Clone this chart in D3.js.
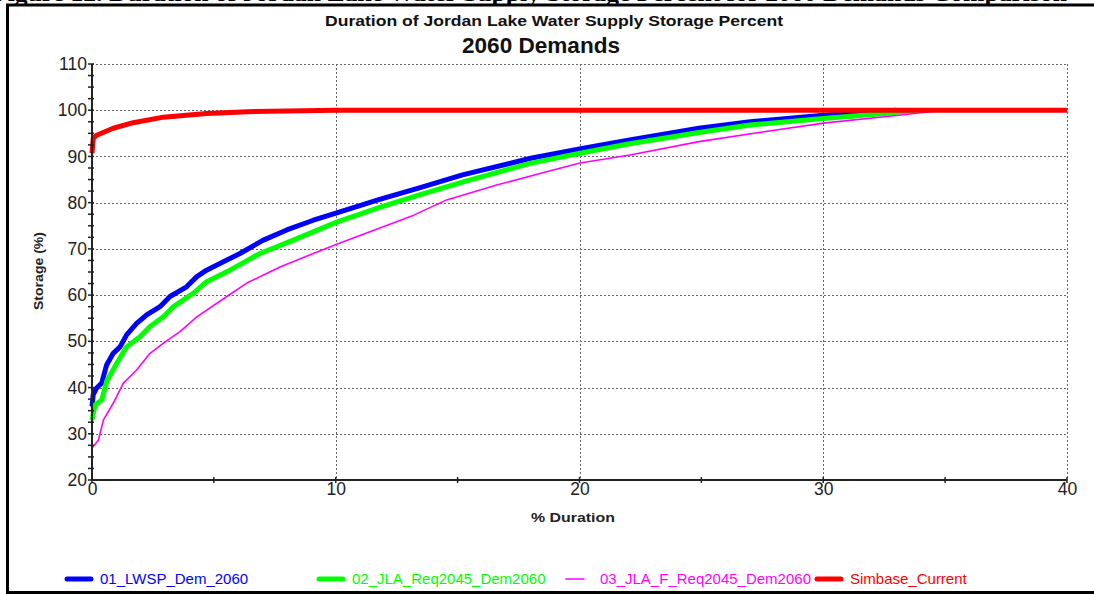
<!DOCTYPE html>
<html>
<head>
<meta charset="utf-8">
<script src="https://cdn.jsdelivr.net/npm/d3@7"></script>
<style>
  body { margin: 0; background: #fff; }
  svg { display: block; font-family: Arial, 'Liberation Sans', sans-serif; }
</style>
</head>
<body>
<svg id="chart"></svg>
<script>
// values
const durLwsp = [0, 0.05, 0.19, 0.4, 0.6, 0.87, 1.15, 1.42, 1.83, 2.24, 2.79, 3.2, 3.88, 4.3, 4.7, 5.39, 6.07, 7.03, 7.99, 9.08, 10.04, 11.8, 13.5, 15.2, 18.0, 20.0, 22.0, 24.9, 27.0, 30.0, 31.8, 33.0];
const stoLwsp = [35.9, 38.5, 39.9, 41.0, 44.9, 47.4, 48.8, 51.4, 53.9, 55.7, 57.5, 59.7, 61.8, 64.0, 65.4, 67.2, 69.0, 71.9, 74.1, 76.2, 77.8, 80.7, 83.3, 86.0, 89.6, 91.6, 93.5, 96.1, 97.5, 98.9, 99.5, 100];

const durJla = [0, 0.12, 0.4, 0.6, 1.01, 1.42, 1.97, 2.38, 2.93, 3.34, 4.16, 4.7, 5.66, 6.89, 8.26, 10.04, 11.8, 13.5, 15.23, 17.97, 20.02, 22.0, 24.9, 27.0, 30.0, 32.5, 33.8];
const stoJla = [33.0, 36.2, 37.3, 41.3, 45.2, 48.8, 51.0, 53.2, 55.3, 57.5, 60.4, 62.9, 65.4, 69.0, 71.9, 75.8, 79.0, 81.8, 84.5, 88.5, 90.7, 92.7, 95.2, 96.8, 98.2, 99.3, 100];

const durJlaF = [0, 0.26, 0.47, 0.87, 1.28, 1.83, 2.38, 2.93, 3.61, 4.3, 5.53, 6.35, 7.71, 9.08, 10.04, 11.4, 13.2, 14.55, 16.6, 18.65, 20.02, 22.07, 24.9, 27.5, 30.0, 33.1, 34.9];
const stoJlaF = [26.9, 28.6, 33.0, 36.6, 40.9, 43.8, 47.4, 49.6, 52.1, 55.3, 59.7, 62.6, 66.1, 69.0, 71.0, 73.7, 77.3, 80.6, 83.8, 86.7, 88.6, 90.3, 93.2, 95.3, 97.2, 98.9, 100];

const durSimbase = [0, 0.05, 0.19, 0.87, 1.69, 2.93, 4.7, 6.62, 10.04, 40];
const stoSimbase = [90.7, 93.9, 94.6, 96.1, 97.3, 98.5, 99.3, 99.7, 100, 100];

const seriesNames = ['01_LWSP_Dem_2060', '02_JLA_Req2045_Dem2060', '03_JLA_F_Req2045_Dem2060', 'Simbase_Current'];
const xTicks = [0, 10, 20, 30, 40];
const yTicks = [20, 30, 40, 50, 60, 70, 80, 90, 100, 110];

const width = 1094;
const height = 594;
const plot = { left: 92, right: 1067, top: 64, bottom: 480 };

const svg = d3.select('#chart')
  .attr('width', width)
  .attr('height', height);

const x = d3.scaleLinear().domain([0, 40]).range([plot.left, plot.right]);
const y = d3.scaleLinear().domain([20, 110]).range([plot.bottom, plot.top]);

const series = [
  { name: seriesNames[0], dur: durLwsp, sto: stoLwsp, color: '#0000ff', w: 5 },
  { name: seriesNames[1], dur: durJla, sto: stoJla, color: '#00ff00', w: 5 },
  { name: seriesNames[2], dur: durJlaF, sto: stoJlaF, color: '#ff00ff', w: 1.6 },
  { name: seriesNames[3], dur: durSimbase, sto: stoSimbase, color: '#ff0000', w: 5 },
];

// page heading, cut off by the top of the picture as in the source
svg.append('text')
  .attr('x', -8)
  .attr('y', 1)
  .attr('font-family', "'Liberation Serif', 'DejaVu Serif', serif")
  .attr('font-weight', 'bold')
  .attr('font-size', 22)
  .attr('textLength', 1075)
  .attr('lengthAdjust', 'spacingAndGlyphs')
  .text('Figure 12. Duration of Jordan Lake Water Supply Storage Percent for 2060 Demands Comparison');

// frame
svg.append('path')
  .attr('d', `M1094,5 H7.5 V592.5 H1094`)
  .attr('fill', 'none')
  .attr('stroke', '#000')
  .attr('stroke-width', 3);

// titles
svg.append('text')
  .attr('x', 554)
  .attr('y', 26)
  .attr('text-anchor', 'middle')
  .attr('font-size', 15)
  .attr('font-weight', 'bold')
  .attr('fill', '#111')
  .attr('textLength', 458)
  .attr('lengthAdjust', 'spacingAndGlyphs')
  .text('Duration of Jordan Lake Water Supply Storage Percent');
svg.append('text')
  .attr('x', 541)
  .attr('y', 53)
  .attr('text-anchor', 'middle')
  .attr('font-size', 22)
  .attr('font-weight', 'bold')
  .attr('fill', '#111')
  .attr('textLength', 158)
  .attr('lengthAdjust', 'spacingAndGlyphs')
  .text('2060 Demands');

// grid
const grid = svg.append('g')
  .attr('stroke', '#666')
  .attr('stroke-width', 1)
  .attr('stroke-dasharray', '2,2');

grid.selectAll('line.h')
  .data(yTicks.filter(d => d > 20))
  .enter().append('line')
    .attr('class', 'h')
    .attr('x1', plot.left)
    .attr('x2', plot.right)
    .attr('y1', d => Math.round(y(d)) + 0.5)
    .attr('y2', d => Math.round(y(d)) + 0.5);
grid.selectAll('line.v')
  .data(xTicks.filter(d => d > 0))
  .enter().append('line')
    .attr('class', 'v')
    .attr('x1', d => Math.round(x(d)) + 0.5)
    .attr('x2', d => Math.round(x(d)) + 0.5)
    .attr('y1', plot.top)
    .attr('y2', plot.bottom);

// series lines
const line = d3.line()
  .x(d => x(d[0]))
  .y(d => y(d[1]));

svg.selectAll('path.series')
  .data(series)
  .enter().append('path')
    .attr('class', 'series')
    .attr('fill', 'none')
    .attr('stroke', d => d.color)
    .attr('stroke-width', d => d.w)
    .attr('stroke-linejoin', 'round')
    .attr('d', d => line(d.dur.map((v, i) => [v, d.sto[i]])));

// axes
const axes = svg.append('g').attr('stroke', '#222').attr('stroke-width', 2);
axes.append('line')
  .attr('x1', plot.left).attr('x2', plot.left)
  .attr('y1', plot.top).attr('y2', plot.bottom);
axes.append('line')
  .attr('x1', plot.left).attr('x2', plot.right)
  .attr('y1', plot.bottom).attr('y2', plot.bottom);

axes.selectAll('line.yt')
  .data(d3.range(20, 110.01, 2.5))
  .enter().append('line')
    .attr('class', 'yt')
    .attr('stroke-width', 1.5)
    .attr('x1', plot.left - 4).attr('x2', plot.left + 2)
    .attr('y1', d => y(d)).attr('y2', d => y(d));
axes.selectAll('line.xt')
  .data(d3.range(0, 40.01, 5))
  .enter().append('line')
    .attr('class', 'xt')
    .attr('stroke-width', 1.5)
    .attr('x1', d => x(d)).attr('x2', d => x(d))
    .attr('y1', plot.bottom - 3).attr('y2', plot.bottom + 3);

const yAxis = d3.axisLeft(y).tickValues(yTicks).tickSize(0).tickPadding(5);
svg.append('g')
  .attr('transform', `translate(${plot.left},0)`)
  .call(yAxis)
  .call(g => g.select('.domain').remove())
  .selectAll('text')
    .attr('font-size', 17.5)
    .attr('font-family', 'Arial, "Liberation Sans", sans-serif')
    .attr('fill', '#222');

const xAxis = d3.axisBottom(x).tickValues(xTicks).tickSize(0).tickPadding(3);
svg.append('g')
  .attr('transform', `translate(0,${plot.bottom})`)
  .call(xAxis)
  .call(g => g.select('.domain').remove())
  .selectAll('text')
    .attr('font-size', 17.5)
    .attr('font-family', 'Arial, "Liberation Sans", sans-serif')
    .attr('fill', '#222');

// axis labels
svg.append('text')
  .attr('x', 573)
  .attr('y', 522)
  .attr('text-anchor', 'middle')
  .attr('font-size', 13.5)
  .attr('font-weight', 'bold')
  .attr('fill', '#222')
  .attr('textLength', 84)
  .attr('lengthAdjust', 'spacingAndGlyphs')
  .text('% Duration');
svg.append('text')
  .attr('transform', 'translate(43,271) rotate(-90)')
  .attr('text-anchor', 'middle')
  .attr('font-size', 13.5)
  .attr('font-weight', 'bold')
  .attr('fill', '#222')
  .attr('textLength', 78)
  .attr('lengthAdjust', 'spacingAndGlyphs')
  .text('Storage (%)');

// legend
const legendX = [65, 317, 564, 815];
const legend = svg.selectAll('g.legend')
  .data(series)
  .enter().append('g')
    .attr('class', 'legend')
    .attr('transform', (d, i) => `translate(${legendX[i]},579)`);
legend.append('line')
  .attr('x1', 2).attr('x2', d => d.w > 2 ? 26 : 20)
  .attr('y1', 0).attr('y2', 0)
  .attr('stroke', d => d.color)
  .attr('stroke-width', d => d.w > 2 ? 5 : 1.6)
  .attr('stroke-linecap', 'round');
legend.append('text')
  .attr('x', (d, i) => i === 2 ? 36 : 35)
  .attr('y', 5)
  .attr('font-size', 15)
  .attr('fill', d => d.color)
  .text(d => d.name);
</script>
</body>
</html>
